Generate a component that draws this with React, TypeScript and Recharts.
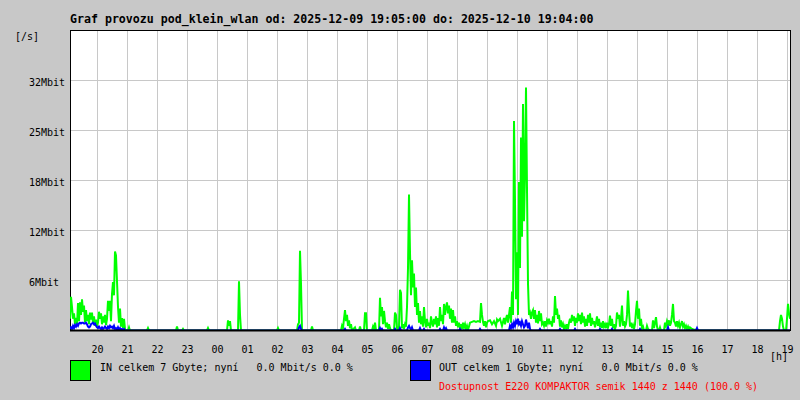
import React from "react";
import { LineChart, Line, XAxis, YAxis, CartesianGrid, ReferenceLine, ReferenceArea } from "recharts";

// minutes since 2025-12-09 19:05, traffic in Mbit/s
const inTraffic: [number, number][] = [
  [0,1.5],[2,4.3],[4,3.0],[6,1.5],[8,2.2],[10,0.8],[12,1.6],[14,0.6],[16,3.5],[18,1.2],[20,3.6],[22,2.0],[24,4.0],[26,2.4],[28,3.2],[30,1.0],
  [32,2.6],[34,1.2],[36,2.0],[38,0.8],[40,2.3],[42,1.4],[44,2.3],[46,0.9],[48,1.8],[50,0.6],[52,1.4],[54,0.5],[56,1.0],[58,2.4],[60,1.5],
  [62,2.2],[64,0.8],[66,1.8],[68,1.0],[70,2.0],[72,0.7],[74,1.5],[76,3.8],[78,2.5],[80,3.8],[82,1.2],[84,4.7],[86,6.2],[88,4.5],[90,10.1],
  [92,9.6],[94,6.3],[96,3.0],[98,1.0],[100,2.8],[102,0.5],[104,1.6],[106,0.3],[108,1.5],[110,0.2],[112,0],[116,0],[118,0.4],[120,0],
  [154,0],[156,0.3],[158,0],[212,0],[214,0.5],[216,0],[224,0],[226,0.2],[228,0],[274,0],[276,0.3],[278,0],
  [314,0],[316,1.3],[318,0.6],[320,1.2],[322,0],[336,0],[338,6.3],[340,2.0],[342,0],[414,0],[416,0.3],[418,0],
  [454,0],[456,0.8],[458,1.0],[460,10.2],[462,6.0],[464,0],[482,0],[484,0.5],[486,0],
  [542,0],[544,0.6],[546,0.3],[548,1.5],[550,2.6],[552,1.2],[554,2.0],[556,0.6],[558,1.3],[560,0.3],[562,0.8],[564,0],[570,0.4],[572,0],
  [578,0],[580,0.5],[582,0],[588,0],[590,2.2],[592,2.2],[594,0],[604,0],[606,0.5],[608,0.2],[610,1.0],[612,0],
  [618,0],[620,4.2],[622,1.8],[624,3.0],[626,0.8],[628,2.5],[630,1.2],[632,0.4],[634,1.0],[636,0.2],[638,0.8],[640,0.3],[642,0],
  [648,0],[650,2.3],[652,2.0],[654,0.3],[656,0],[658,0.5],[660,5.2],[662,4.8],[664,0.3],[666,0.8],[668,0.2],[670,0.8],[672,0.5],
  [674,3.0],[676,8.0],[678,17.4],[680,10.0],[682,4.5],[684,9.0],[686,5.5],[688,7.3],[690,3.0],[692,5.5],[694,2.0],[696,3.5],[698,1.0],
  [700,2.5],[702,0.8],[704,1.8],[706,0.5],[708,3.0],[710,1.2],[712,0.4],[714,1.5],[716,0.6],[718,1.0],[720,0.3],[722,1.8],[724,1.0],
  [726,0.5],[728,1.5],[730,0.8],[732,1.8],[734,0.4],[736,1.6],[738,0.6],[740,3.0],[742,1.2],[744,2.0],[746,0.8],[748,3.4],[750,2.0],
  [752,3.0],[754,3.6],[756,2.2],[758,3.2],[760,1.5],[762,2.8],[764,1.0],[766,2.6],[768,1.0],[770,1.8],[772,0.6],[774,1.2],[776,0.4],
  [778,1.0],[780,0.3],[782,0.8],[784,0.2],[786,1.0],[788,0.4],[790,0.8],[792,0.2],[794,0.6],[796,0.1],[798,0.5],[800,1.0],[804,1.1],
  [808,1.2],[812,1.1],[816,1.2],[820,1.1],[822,3.5],[824,2.0],[826,1.1],[828,0.6],[830,1.2],[832,0.4],[834,1.0],[836,1.2],[840,1.3],
  [844,0.8],[848,1.2],[852,0.6],[854,1.4],[856,1.2],[860,1.5],[864,0.6],[868,1.6],[870,0.8],[872,1.5],[874,2.0],[876,1.0],[878,2.0],
  [880,3.0],[882,1.0],[884,5.0],[886,2.0],[888,26.8],[890,16.6],[892,4.0],[894,10.0],[896,2.0],[898,19.0],[900,8.0],[902,24.7],
  [904,12.0],[906,29.0],[908,14.0],[910,20.0],[912,31.1],[914,18.0],[916,6.0],[918,2.0],[920,2.3],[922,1.5],[924,2.3],[926,2.6],
  [928,1.5],[930,2.6],[932,1.0],[934,2.0],[936,0.9],[938,2.5],[940,1.2],[942,2.2],[944,0.8],[946,1.0],[948,0.6],[950,1.2],[952,0.5],
  [954,1.3],[956,1.0],[958,1.5],[960,0.8],[962,1.2],[964,0.5],[966,1.8],[968,1.0],[970,4.4],[972,2.0],[974,2.8],[976,1.5],[978,2.0],
  [980,0.5],[982,1.3],[984,0.4],[986,0.8],[988,0.2],[990,0.6],[992,0.3],[994,0.8],[996,0.2],[998,1.0],[1000,1.5],[1002,1.0],[1004,2.0],
  [1006,1.2],[1008,1.8],[1010,0.6],[1012,1.6],[1014,1.0],[1016,2.2],[1018,1.2],[1020,2.0],[1022,0.8],[1024,2.3],[1026,1.0],[1028,1.8],
  [1030,0.5],[1032,1.5],[1034,0.6],[1036,2.0],[1038,1.0],[1040,2.2],[1042,0.6],[1044,1.6],[1046,0.8],[1048,1.2],[1050,0.4],[1052,1.0],
  [1054,1.8],[1056,0.6],[1058,1.5],[1060,0.4],[1062,1.0],[1064,0.3],[1066,1.2],[1068,0.5],[1070,0.8],[1072,0.3],[1074,1.0],[1076,0.4],
  [1078,0.8],[1080,1.9],[1082,0.6],[1084,1.5],[1086,0.3],[1088,0.8],[1090,0.2],[1092,0.6],[1094,2.3],[1096,1.5],[1098,2.0],[1100,0.5],
  [1102,1.5],[1104,3.2],[1106,0.6],[1108,1.2],[1110,0.5],[1112,0.8],[1114,2.0],[1116,5.1],[1118,2.5],[1120,0.5],[1122,1.0],[1124,0.3],
  [1126,0.7],[1128,0.2],[1130,0.8],[1132,2.5],[1134,3.8],[1136,1.5],[1138,2.8],[1140,0.6],[1142,1.5],[1144,0.3],[1146,0.5],[1148,0],
  [1152,0],[1154,0.6],[1156,0.2],[1160,0],[1164,0],[1166,1.3],[1168,0.3],[1170,1.0],[1172,1.7],[1174,0.5],[1176,0],[1178,0],[1180,0.4],
  [1182,0],[1188,0],[1190,1.0],[1192,0.6],[1194,1.2],[1196,0.8],[1198,1.3],[1200,0.6],[1202,1.0],[1204,2.0],[1206,3.4],[1208,1.2],
  [1210,1.0],[1212,0.5],[1214,1.2],[1216,0.6],[1218,1.0],[1220,0.4],[1222,0.8],[1224,1.2],[1226,0.5],[1228,0.8],[1230,0.3],[1232,0.6],
  [1234,0.2],[1236,0.5],[1238,0.1],[1240,0.4],[1244,0.2],[1248,0.1],[1254,0.1],[1256,0],[1418,0],[1420,1.2],[1422,2.0],[1424,1.5],
  [1426,0.5],[1428,0],[1432,0],[1434,1.5],[1436,3.4],[1438,2.2],[1440,1.5],
];

const outTraffic: [number, number][] = [
  [0,0.2],[2,0.4],[4,0.2],[6,0.6],[8,0.3],[10,0.7],[12,0.5],[14,0.8],[16,0.6],[18,0.9],[20,1.0],[22,0.9],[24,1.0],[26,1.0],[28,0.9],
  [30,0.9],[32,1.0],[34,0.8],[36,0.5],[38,0.4],[40,0.5],[42,0.8],[44,0.9],[46,1.0],[48,0.8],[50,0.9],[52,0.6],[54,0.4],[56,0.3],[58,0.5],
  [60,0.3],[62,0.2],[64,0.4],[66,0.2],[68,0.3],[70,0.5],[72,0.3],[74,0.2],[76,0.5],[78,0.3],[80,0.6],[82,0.4],[84,0.5],[86,0.3],[88,0.6],
  [90,0.2],[92,0.3],[94,0.1],[96,0.4],[98,0.1],[100,0.3],[102,0.1],[104,0.2],[106,0.1],[108,0.2],[110,0],
  [456,0],[458,0.4],[460,0.6],[462,0.2],[464,0],[548,0],[550,0.2],[552,0],[618,0],[620,0.3],[622,0],[624,0.2],[626,0],
  [648,0],[650,0.2],[652,0],[658,0],[660,0.3],[662,0],[674,0],[676,0.4],[678,0.6],[680,0.3],[682,0.1],[684,0.4],[686,0],
  [698,0],[700,0.3],[702,0],[706,0],[708,0.2],[710,0],[738,0],[740,0.2],[742,0],[746,0],[748,0.4],[750,0.1],[752,0.3],[754,0],
  [778,0],[780,0.2],[782,0],[818,0],[820,0.2],[822,0],[878,0],[880,0.6],[882,0.3],[884,0.8],[886,0.4],[888,1.0],[890,0.6],[892,1.2],
  [894,0.8],[896,1.5],[898,0.8],[900,1.0],[902,0.6],[904,1.2],[906,0.8],[908,0.4],[910,0.6],[912,1.4],[914,0.8],[916,0.3],[918,1.0],
  [920,0.2],[922,0],[938,0],[940,0.2],[942,0],[978,0],[980,0.2],[982,0],[1008,0],[1010,0.2],[1012,0],[1058,0],[1060,0.2],[1062,0],
  [1082,0],[1084,0.2],[1086,0],[1138,0],[1140,0.2],[1142,0],[1194,0],[1196,0.4],[1198,0],[1252,0],[1254,0.3],[1256,0],[1440,0],
];

const hourTicks = [55, 115, 175, 235, 295, 355, 415, 475, 535, 595, 655, 715, 775, 835, 895, 955, 1015, 1075, 1135, 1195, 1255, 1315, 1375, 1435];
const hourLabels = ["20","21","22","23","00","01","02","03","04","05","06","07","08","09","10","11","12","13","14","15","16","17","18","19"];
const yTicks = [6.4, 12.8, 19.2, 25.6, 32];
const yLabels = ["6Mbit", "12Mbit", "18Mbit", "25Mbit", "32Mbit"];
const yMax = 38.4;
const totalMinutes = 1440;

const title = "Graf provozu pod_klein_wlan od: 2025-12-09 19:05:00 do: 2025-12-10 19:04:00";
const inLegend = "IN celkem 7 Gbyte; nyní   0.0 Mbit/s 0.0 %";
const outLegend = "OUT celkem 1 Gbyte; nyní   0.0 Mbit/s 0.0 %";
const availability = "Dostupnost E220 KOMPAKTOR semik 1440 z 1440 (100.0 %)";

const inData = inTraffic.map(([t, v]) => ({ t, v }));
const outData = outTraffic.map(([t, v]) => ({ t, v }));

const FONT = "'DejaVu Sans Mono', 'Liberation Mono', monospace";

const XTick = (props: any) => {
  const { x, y, payload, index } = props;
  return (
    <text x={x} y={y} dy={14} textAnchor="middle" fontSize={10} fontFamily={FONT} fill="#000">
      {hourLabels[index] ?? payload.value}
    </text>
  );
};

const YTick = (props: any) => {
  const { y, index } = props;
  return (
    <text x={29} y={y} dy={5.5} textAnchor="start" fontSize={10} fontFamily={FONT} fill="#000">
      {yLabels[index]}
    </text>
  );
};

export default function App() {
  return (
    <div style={{ position: "absolute", left: 0, top: 0, width: 800, height: 400, background: "#c8c8c8" }}>
      <style>{".recharts-cartesian-grid line, .recharts-reference-area-rect, .legend-box { shape-rendering: crispEdges; }"}</style>
      <LineChart width={800} height={400} margin={{ top: 30.5, right: 10, bottom: 39.5, left: 0 }}>
        <CartesianGrid fill="#ffffff" fillOpacity={1} stroke="#c8c8c8" strokeWidth={1} />
        <XAxis
          type="number"
          dataKey="t"
          domain={[0, totalMinutes]}
          ticks={hourTicks}
          interval={0}
          height={30}
          axisLine={false}
          tickLine={false}
          tick={<XTick />}
          allowDataOverflow
        />
        <YAxis
          type="number"
          domain={[0, yMax]}
          ticks={yTicks}
          interval={0}
          width={70}
          axisLine={false}
          tickLine={false}
          tick={<YTick />}
          allowDataOverflow
        />
        <Line data={inData} dataKey="v" type="linear" stroke="#00ff00" strokeWidth={2} dot={false} isAnimationActive={false} />
        <Line data={outData} dataKey="v" type="linear" stroke="#0000ff" strokeWidth={2} dot={false} isAnimationActive={false} />
        <ReferenceArea x1={0} x2={totalMinutes} y1={0} y2={yMax} fill="none" stroke="#000" strokeWidth={1} />
        <ReferenceLine y={0} stroke="#000" strokeWidth={2} />
      </LineChart>
      <svg width={800} height={400} style={{ position: "absolute", left: 0, top: 0, pointerEvents: "none" }}>
        <text x={70} y={23} fontSize={11.6} fontWeight="bold" fontFamily={FONT} fill="#000" style={{ whiteSpace: "pre" }}>{title}</text>
        <text x={15} y={40} fontSize={10} fontFamily={FONT} fill="#000">[/s]</text>
        <text x={770} y={360} fontSize={10} fontFamily={FONT} fill="#000">[h]</text>
        <rect className="legend-box" x={70.5} y={360.5} width={20} height={20} fill="#00ff00" stroke="#000" strokeWidth={1} />
        <rect className="legend-box" x={410.5} y={360.5} width={20} height={20} fill="#0000ff" stroke="#000" strokeWidth={1} />
        <text x={100} y={371} fontSize={10} fontFamily={FONT} fill="#000" style={{ whiteSpace: "pre" }}>{inLegend}</text>
        <text x={439} y={371} fontSize={10} fontFamily={FONT} fill="#000" style={{ whiteSpace: "pre" }}>{outLegend}</text>
        <text x={439} y={390} fontSize={10} fontFamily={FONT} fill="#ff0000" style={{ whiteSpace: "pre" }}>{availability}</text>
      </svg>
    </div>
  );
}
